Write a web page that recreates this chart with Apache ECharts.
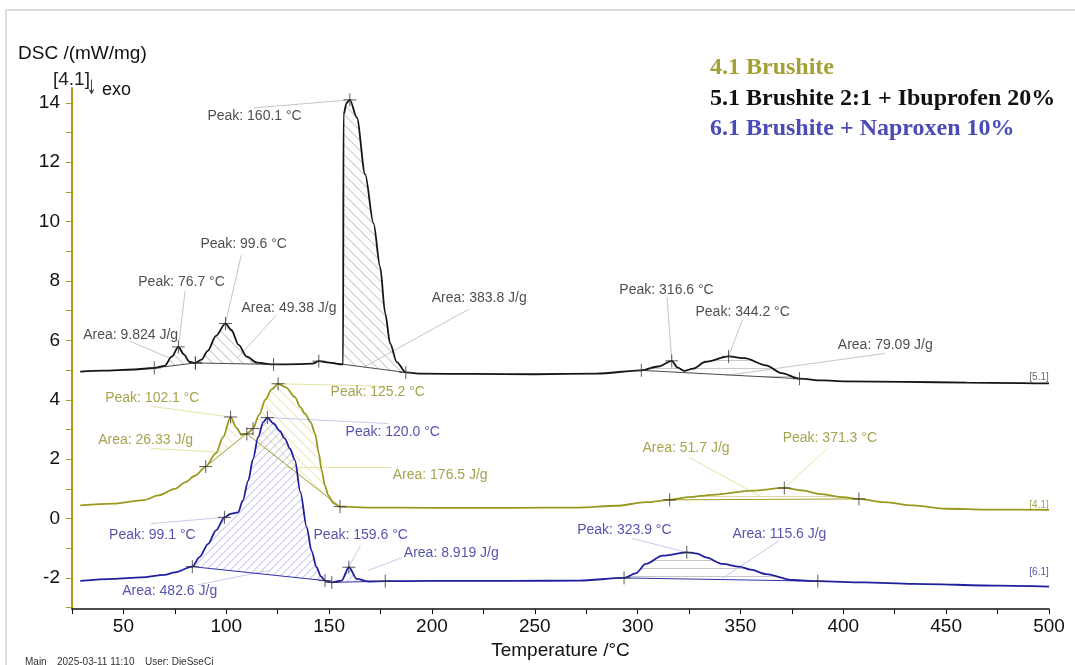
<!DOCTYPE html>
<html>
<head>
<meta charset="utf-8">
<script src="https://cdn.jsdelivr.net/npm/echarts/dist/echarts.min.js"></script>
<style>
  html, body { margin: 0; padding: 0; background: #fff; }
  #chart { width: 1075px; height: 665px; }
</style>
</head>
<body>
<div id="chart"></div>
<script>
// ---- DSC data: [temperature °C, DSC mW/mg] ----
const curve41 = [
  [29,0.44],[45,0.5],[60,0.62],[67,0.78],[75,1.0],[80,1.22],[85,1.45],[90,1.75],[95,2.2],[98.5,2.75],
  [102.1,3.42],[105,3.05],[107.4,2.82],[110,2.85],[113,3.03],[116,3.5],[119,4.0],[122,4.35],[125.2,4.54],
  [129,4.42],[133.4,4.09],[136,3.75],[138.3,3.53],[141,3.25],[143.2,2.86],[145,2.2],[146.4,1.62],[148,1.1],
  [149.6,0.78],[152,0.52],[155.3,0.40],[170,0.37],[200,0.36],[240,0.36],[271,0.37],[290,0.43],[304,0.55],
  [315.6,0.63],[325,0.72],[336.4,0.8],[356,0.94],[371.3,1.03],[380,0.95],[388.4,0.83],[400,0.72],[407.6,0.66],
  [420,0.55],[434,0.44],[450,0.33],[470,0.3],[500,0.29]
];
const curve51 = [
  [29,4.95],[40,4.98],[55,5.02],[65,5.07],[70,5.14],[73.5,5.45],[76.7,5.78],[79.5,5.52],[82,5.28],[85,5.24],
  [88,5.35],[91,5.65],[95,6.15],[99.6,6.57],[102.5,6.35],[106,5.85],[110,5.45],[115,5.25],[123,5.19],[135,5.2],
  [142,5.22],[145,5.3],[150,5.25],[156.8,5.19],[157,13.6],[158.5,14.0],[160.1,14.1],[163.5,13.5],[167.5,11.6],
  [171.6,9.94],[174.8,8.48],[177.3,6.9],[179.7,5.89],[182.9,5.27],[187.3,4.92],[195,4.88],[220,4.87],[250,4.86],
  [280,4.88],[301.8,4.99],[310,5.12],[316.6,5.31],[319.5,5.08],[322.6,4.97],[327,5.05],[333,5.28],[344.2,5.46],
  [352,5.4],[362.4,5.16],[370,4.9],[378.7,4.71],[390,4.65],[401,4.62],[430,4.6],[460,4.58],[500,4.55]
];
const curve61 = [
  [29,-2.1],[45,-2.03],[58.7,-1.98],[70,-1.9],[75,-1.81],[83.5,-1.62],[87,-1.3],[91.2,-0.85],[95,-0.4],
  [99.1,0.04],[102,0.16],[105.8,0.21],[108,0.6],[110.7,1.28],[113,2.0],[115.5,2.74],[118,3.25],[120,3.40],
  [123,3.2],[126,2.95],[128.5,2.69],[131,2.35],[133.4,1.96],[136,0.9],[139.1,-0.29],[141.5,-1.1],[143.9,-1.64],
  [146,-1.95],[148,-2.09],[151.3,-2.15],[156.1,-2.09],[159.6,-1.64],[163.5,-2.03],[169,-2.12],[177.3,-2.11],
  [200,-2.1],[240,-2.1],[271.5,-2.09],[293.4,-2.0],[299,-1.85],[304,-1.53],[312.1,-1.25],[323.9,-1.14],
  [329,-1.18],[333.2,-1.31],[341.3,-1.53],[349.4,-1.62],[355,-1.72],[362.4,-1.87],[375.4,-2.07],[387.6,-2.11],
  [410,-2.15],[434,-2.2],[476,-2.26],[500,-2.29]
];

const sampleNames = ['4.1 Brushite', '5.1 Brushite 2:1 + Ibuprofen 20%', '6.1 Brushite + Naproxen 10%'];
const curveTags = ['[4.1]', '[5.1]', '[6.1]'];

// evaluated peaks [T, DSC]
const peaks41 = [[102.1,3.42],[125.2,4.54],[371.3,1.03]];
const peaks51 = [[76.7,5.78],[99.6,6.57],[160.1,14.1],[316.6,5.31],[344.2,5.46]];
const peaks61 = [[99.1,0.04],[120.0,3.40],[159.6,-1.64],[323.9,-1.14]];

// integration baselines [T start, DSC start, T end, DSC end]
const ranges41 = [[90,1.75,113,3.03],[110,2.85,155.3,0.40],[315.6,0.63,407.6,0.66]];
const ranges51 = [[65,5.07,85,5.24],[85,5.24,123,5.19],[145,5.3,187.3,4.92],[301.8,4.99,378.7,4.71]];
const ranges61 = [[83.5,-1.62,148,-2.09],[151.3,-2.15,177.3,-2.11],[293.4,-2.0,387.6,-2.11]];

// peak areas, J/g
const areas41 = [26.33, 176.5, 51.7];
const areas51 = [9.824, 49.38, 383.8, 79.09];
const areas61 = [482.6, 8.919, 115.6];

// axis ticks
const xTicks = [25,50,75,100,125,150,175,200,225,250,275,300,325,350,375,400,425,450,475,500];
const xTickLabels = [50,100,150,200,250,300,350,400,450,500];
const yTicks = [-3,-2,-1,0,1,2,3,4,5,6,7,8,9,10,11,12,13,14];
const yTickLabels = [-2,0,2,4,6,8,10,12,14];

// ---- styling ----
const SANS = '"Liberation Sans", Arial, sans-serif';
const SERIF = '"Liberation Serif", "Times New Roman", serif';
const C41 = '#9a981f', C51 = '#151515', C61 = '#1f1fa0';
const T41 = '#8f8c20', T51 = '#222222', T61 = '#28289a';

// hatched regions: baseline index, optional start temperature, hatch direction, spacing (px), colour
const hatch41 = [
  { r: 0, dir: '\\', step: 10, color: '#e3e09c' },
  { r: 1, dir: '\\', step: 10, color: '#e3e09c' },
  { r: 2, dir: '-', step: 8, color: '#d9d7ab' }
];
const hatch51 = [
  { r: 0, dir: '\\', step: 10, color: '#b4b4b4' },
  { r: 1, dir: '\\', step: 10, color: '#b4b4b4' },
  { r: 2, from: 156.8, dir: '\\', step: 10, color: '#b4b4b4' },
  { r: 3, dir: '-', step: 8, color: '#cacaca' }
];
const hatch61 = [
  { r: 0, dir: '/', step: 8, color: '#b2b2ea' },
  { r: 1, dir: '/', step: 8, color: '#b2b2ea' },
  { r: 2, dir: '-', step: 8, color: '#c8c8c8' }
];

const peakText = p => 'Peak: ' + p[0].toFixed(1) + ' °C';
const areaText = a => 'Area: ' + a + ' J/g';

// annotation placement (text anchor and leader line, temperature/DSC units)
const notes51 = [
  { text: peakText(peaks51[2]), at: [90.7, 13.56], lead: [[113.6, 13.83], peaks51[2]] },
  { text: peakText(peaks51[1]), at: [87.3, 9.24], lead: [[107.3, 8.87], peaks51[1]] },
  { text: peakText(peaks51[0]), at: [57.1, 7.96], lead: [[80.0, 7.66], peaks51[0]] },
  { text: areaText(areas51[0]), at: [30.3, 6.17], lead: [[53.2, 5.97], [72.7, 5.40]] },
  { text: areaText(areas51[1]), at: [107.3, 7.08], lead: [[124.3, 6.85], [105.8, 5.43]] },
  { text: areaText(areas51[2]), at: [199.8, 7.42], lead: [[217.9, 7.05], [166.7, 5.09]] },
  { text: peakText(peaks51[3]), at: [291, 7.69], lead: [[314.3, 7.45], peaks51[3]] },
  { text: peakText(peaks51[4]), at: [328, 6.95], lead: [[350.9, 6.68], peaks51[4]] },
  { text: areaText(areas51[3]), at: [397.2, 5.83], lead: [[420.1, 5.56], [343.1, 4.82]] }
];
const notes41 = [
  { text: peakText(peaks41[0]), at: [41, 4.05], lead: [[63.4, 3.78], peaks41[0]] },
  { text: areaText(areas41[0]), at: [37.6, 2.63], lead: [[63.4, 2.36], [97.5, 2.23]] },
  { text: peakText(peaks41[1]), at: [150.6, 4.25], lead: [peaks41[1], [180, 4.45]] },
  { text: areaText(areas41[1]), at: [180.8, 1.45], lead: [[180.3, 1.72], [128.7, 1.72]] },
  { text: areaText(areas41[2]), at: [302.2, 2.36], lead: [[325, 2.06], [360.6, 0.71]] },
  { text: peakText(peaks41[2]), at: [370.4, 2.70], lead: [[392.3, 2.36], peaks41[2]] }
];
const notes61 = [
  { text: peakText(peaks61[1]), at: [157.9, 2.90], lead: [peaks61[1], [178.9, 3.20]] },
  { text: peakText(peaks61[0]), at: [42.9, -0.57], lead: [[63.4, -0.17], peaks61[0]] },
  { text: areaText(areas61[0]), at: [49.3, -2.43], lead: [[86.3, -2.23], [120.4, -1.75]] },
  { text: peakText(peaks61[2]), at: [142.3, -0.57], lead: [[165.2, -0.91], peaks61[2]] },
  { text: areaText(areas61[1]), at: [186.2, -1.18], lead: [[185.2, -1.32], [169.1, -1.75]] },
  { text: peakText(peaks61[3]), at: [270.5, -0.40], lead: [[297.3, -0.67], peaks61[3]] },
  { text: areaText(areas61[2]), at: [346, -0.51], lead: [[368.9, -0.74], [341.1, -2.02]] }
];
const tagAt = [[490.3, 0.44], [490.3, 4.76], [490.3, -1.82]];

// ---- series builders ----
function curveSeries(name, data, color) {
  return {
    type: 'line', name, data, smooth: 0.3, smoothMonotone: 'x',
    symbol: 'none', showSymbol: false, silent: true, z: 5,
    lineStyle: { color, width: 1.8 }, itemStyle: { color }
  };
}

// parallel hatch lines clipped to the polygon between curve and baseline
function hatchLines(pts, dir, step, color) {
  const a = dir === '\\' ? -1 : dir === '/' ? 1 : 0;
  const us = pts.map(p => a * p[0] + p[1]);
  const umin = Math.min.apply(null, us), umax = Math.max.apply(null, us);
  const children = [];
  for (let c = Math.ceil(umin / step) * step + 0.5; c < umax; c += step) {
    const hits = [];
    for (let i = 0; i < pts.length; i++) {
      const j = (i + 1) % pts.length;
      if ((us[i] < c) !== (us[j] < c)) {
        const t = (c - us[i]) / (us[j] - us[i]);
        hits.push([pts[i][0] + t * (pts[j][0] - pts[i][0]), pts[i][1] + t * (pts[j][1] - pts[i][1])]);
      }
    }
    hits.sort((m, n) => m[0] - n[0]);
    for (let k = 0; k + 1 < hits.length; k += 2) {
      children.push({
        type: 'line',
        shape: { x1: hits[k][0], y1: hits[k][1], x2: hits[k + 1][0], y2: hits[k + 1][1] },
        style: { stroke: color, lineWidth: 1 }
      });
    }
  }
  return children;
}

function hatchSeries(curve, ranges, hatches) {
  return {
    type: 'custom', silent: true, z: 1,
    data: hatches.map(h => ranges[h.r]),
    encode: { x: [0, 2], y: [1, 3] },
    renderItem(params, api) {
      const h = hatches[params.dataIndex];
      const r = ranges[h.r];
      const t0 = h.from != null ? h.from : r[0];
      const t1 = r[2];
      const base = t => r[1] + (t - r[0]) / (r[2] - r[0]) * (r[3] - r[1]);
      const pts = [api.coord([t0, base(t0)])];
      curve.forEach(p => { if (p[0] > t0 && p[0] < t1) pts.push(api.coord(p)); });
      pts.push(api.coord([t1, base(t1)]));
      return { type: 'group', children: hatchLines(pts, h.dir, h.step, h.color) };
    }
  };
}

function segmentSeries(rows, color, width, z) {
  return {
    type: 'custom', silent: true, z,
    data: rows,
    encode: { x: [0, 2], y: [1, 3] },
    renderItem(params, api) {
      const a = api.coord([api.value(0), api.value(1)]);
      const b = api.coord([api.value(2), api.value(3)]);
      return { type: 'line', shape: { x1: a[0], y1: a[1], x2: b[0], y2: b[1] }, style: { stroke: color, lineWidth: width } };
    }
  };
}

function markerSeries(points) {
  return {
    type: 'scatter', silent: true, z: 6,
    data: points,
    symbol: 'path://M0 5H10M5 0V10', symbolSize: 13,
    itemStyle: { color: 'rgba(0,0,0,0)', borderColor: '#333', borderWidth: 1 }
  };
}

function textSeries(items, color, size) {
  return {
    type: 'scatter', silent: true, z: 7,
    data: items.map(n => ({ name: n.text, value: n.at })),
    symbol: 'circle', symbolSize: 0.5,
    itemStyle: { color: 'rgba(0,0,0,0)' },
    label: {
      show: true, position: 'right', distance: 0, formatter: '{b}',
      color, fontSize: size, fontFamily: SANS
    }
  };
}

const leaders = notes => notes.map(n => [n.lead[0][0], n.lead[0][1], n.lead[1][0], n.lead[1][1]]);
const limitPoints = ranges => ranges.flatMap(r => [[r[0], r[1]], [r[2], r[3]]]);

const chart = echarts.init(document.getElementById('chart'), null, { renderer: 'canvas' });

chart.setOption({
  animation: false,
  backgroundColor: '#ffffff',
  grid: { left: 72, right: 26, top: 88, bottom: 55.5, containLabel: false },
  legend: {
    data: [
      { name: sampleNames[0], textStyle: { color: '#a3a135' } },
      { name: sampleNames[1], textStyle: { color: '#111111' } },
      { name: sampleNames[2], textStyle: { color: '#4a4ab8' } }
    ],
    orient: 'vertical', left: 700, top: 51, itemGap: 6.5,
    icon: 'rect', itemWidth: 0, itemHeight: 0, selectedMode: false,
    textStyle: { fontFamily: SERIF, fontWeight: 'bold', fontSize: 24, lineHeight: 24 }
  },
  xAxis: {
    type: 'value', min: 25, max: 500,
    name: 'Temperature /°C', nameLocation: 'middle', nameGap: 29,
    nameTextStyle: { color: '#111', fontSize: 19, fontFamily: SANS },
    axisLine: { show: true, onZero: false, lineStyle: { color: '#111', width: 1.5 } },
    axisTick: { show: true, length: 5, lineStyle: { color: '#111' }, customValues: xTicks },
    axisLabel: { color: '#111', fontSize: 19, fontFamily: SANS, margin: 8, customValues: xTickLabels },
    splitLine: { show: false }
  },
  yAxis: {
    type: 'value', min: -3.05, max: 14.5,
    axisLine: { show: true, onZero: false, lineStyle: { color: '#a3a020', width: 2 } },
    axisTick: { show: true, length: 6, lineStyle: { color: '#a3a020' }, customValues: yTicks },
    axisLabel: { color: '#111', fontSize: 19, fontFamily: SANS, margin: 12, customValues: yTickLabels },
    splitLine: { show: false }
  },
  graphic: [
    { type: 'line', shape: { x1: 6, y1: 10, x2: 1075, y2: 10 }, style: { stroke: '#d2d2d2', lineWidth: 1.5 }, silent: true },
    { type: 'line', shape: { x1: 6, y1: 10, x2: 6, y2: 665 }, style: { stroke: '#d2d2d2', lineWidth: 1.5 }, silent: true },
    { type: 'text', left: 18, top: 44, style: { text: 'DSC /(mW/mg)', font: '19px ' + SANS, fill: '#111' } },
    { type: 'text', left: 53, top: 70, style: { text: curveTags[0], font: '19px ' + SANS, fill: '#222' } },
    { type: 'text', x: 87, y: 79, scaleX: 0.55, style: { text: '↓', font: '20px "DejaVu Sans", sans-serif', fill: '#333' } },
    { type: 'text', left: 102, top: 81, style: { text: 'exo', font: '18px ' + SANS, fill: '#111' } },
    { type: 'text', left: 25, top: 657, style: { text: 'Main', font: '10px ' + SANS, fill: '#333' } },
    { type: 'text', left: 57, top: 657, style: { text: '2025-03-11 11:10', font: '10px ' + SANS, fill: '#333' } },
    { type: 'text', left: 145, top: 657, style: { text: 'User: DieSseCi', font: '10px ' + SANS, fill: '#333' } }
  ],
  series: [
    hatchSeries(curve41, ranges41, hatch41),
    hatchSeries(curve51, ranges51, hatch51),
    hatchSeries(curve61, ranges61, hatch61),
    segmentSeries(leaders(notes51), '#c6c6c6', 1, 2),
    segmentSeries(leaders(notes41), '#e6e3a6', 1, 2),
    segmentSeries(leaders(notes61), '#c9c9ec', 1, 2),
    segmentSeries(ranges51, '#4a4a4a', 1, 3),
    segmentSeries(ranges41, '#a09d2a', 1, 3),
    segmentSeries(ranges61, '#2f2fa6', 1, 3),
    curveSeries(sampleNames[0], curve41, C41),
    curveSeries(sampleNames[1], curve51, C51),
    curveSeries(sampleNames[2], curve61, C61),
    markerSeries(peaks51.concat(limitPoints(ranges51))),
    markerSeries(peaks41.concat(limitPoints(ranges41))),
    markerSeries(peaks61.concat(limitPoints(ranges61))),
    textSeries(notes51, T51, 14),
    textSeries(notes41, T41, 14),
    textSeries(notes61, T61, 14),
    textSeries([{ text: curveTags[1], at: tagAt[1] }], '#444', 10),
    textSeries([{ text: curveTags[0], at: tagAt[0] }], T41, 10),
    textSeries([{ text: curveTags[2], at: tagAt[2] }], T61, 10)
  ]
});
</script>
</body>
</html>
